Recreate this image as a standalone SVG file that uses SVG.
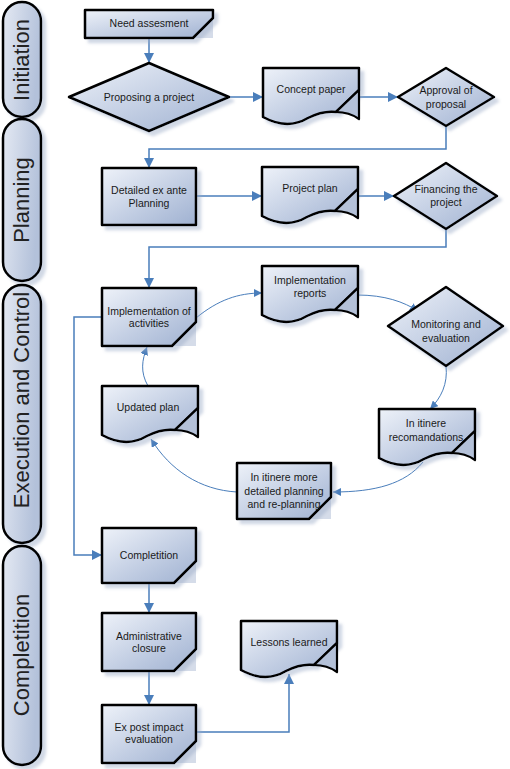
<svg xmlns="http://www.w3.org/2000/svg" width="510" height="769" viewBox="0 0 510 769">
<defs>
<linearGradient id="g" x1="0" y1="0" x2="1" y2="1">
<stop offset="0" stop-color="#eef2f9"/>
<stop offset="0.5" stop-color="#c6d1e5"/>
<stop offset="1" stop-color="#9fb1d1"/>
</linearGradient>
<linearGradient id="gl" x1="0" y1="0" x2="1" y2="0.3">
<stop offset="0" stop-color="#e4e9f3"/>
<stop offset="1" stop-color="#b3c1da"/>
</linearGradient>
<filter id="sh" x="-20%" y="-20%" width="150%" height="150%">
<feDropShadow dx="4" dy="4" stdDeviation="1.8" flood-color="#9aaac6" flood-opacity="0.45"/>
</filter>
<marker id="a" viewBox="0 0 10 10" refX="10" refY="5" markerWidth="10" markerHeight="10" markerUnits="userSpaceOnUse" orient="auto">
<path d="M0,0 L10,5 L0,10 Z" fill="#4a7ebb"/>
</marker>
<marker id="as" viewBox="0 0 10 10" refX="10" refY="5" markerWidth="8" markerHeight="8" markerUnits="userSpaceOnUse" orient="auto">
<path d="M0,0 L10,5 L0,10 Z" fill="#4a7ebb"/>
</marker>
<path id="doc" d="M0,0 H96 V22 L73,44 C65,43 55,45 45,50 C35,56 20,60 0,49 Z"/>
<path id="curl" d="M96,22 L73,44 C81,44 89,46 96,51 Z"/>
</defs>
<style>
.shape{fill:url(#g);stroke:#000;stroke-width:2.5;stroke-linejoin:round;filter:url(#sh)}
.curl{fill:#b4c1d8;stroke:#000;stroke-width:2.2;stroke-linejoin:round}
.fold{fill:#c3cde0;opacity:0.7}
.lane{fill:url(#gl);stroke:#000;stroke-width:2.5;filter:url(#sh)}
.t{font-family:"Liberation Sans",Arial,sans-serif;font-size:10.5px;fill:#1a1a1a;text-anchor:middle}
.lt{font-family:"Liberation Sans",Arial,sans-serif;font-size:22px;fill:#222;text-anchor:middle}
.c{fill:none;stroke:#4a7ebb;stroke-width:1.5}
.cc{fill:none;stroke:#4a7ebb;stroke-width:1}
</style>

<g id="lanes">
<g id="lane-initiation"><rect class="lane" x="3" y="2" width="38" height="115" rx="19"/><text class="lt" transform="translate(29,60) rotate(-90)">Initiation</text></g>
<g id="lane-planning"><rect class="lane" x="3" y="119" width="38" height="162" rx="19"/><text class="lt" transform="translate(29,200) rotate(-90)">Planning</text></g>
<g id="lane-execution"><rect class="lane" x="3" y="285" width="38" height="258" rx="19"/><text class="lt" transform="translate(29,400) rotate(-90)">Execution and Control</text></g>
<g id="lane-completion"><rect class="lane" x="3" y="546" width="38" height="219" rx="19"/><text class="lt" transform="translate(29,655) rotate(-90)">Completition</text></g>
</g>

<g id="connectors">
<path class="c" d="M149,38 V63" marker-end="url(#a)"/>
<path class="c" d="M229,97 H263" marker-end="url(#a)"/>
<path class="c" d="M360,97 H398" marker-end="url(#a)"/>
<path class="c" d="M446,126 V149 H149 V168" marker-end="url(#a)"/>
<path class="c" d="M196,196 H262" marker-end="url(#a)"/>
<path class="c" d="M357,196 H394" marker-end="url(#a)"/>
<path class="c" d="M446,229 V247 H149 V288" marker-end="url(#a)"/>
<path class="cc" d="M196,318 C218,300 238,293 262,293" marker-end="url(#as)"/>
<path class="cc" d="M357,295 C385,295 404,302 418,311" marker-end="url(#as)"/>
<path class="cc" d="M446,366 C448,384 441,398 430,409" marker-end="url(#as)"/>
<path class="cc" d="M423,462 C405,484 375,492 333,492" marker-end="url(#as)"/>
<path class="cc" d="M237,492 C200,490 170,470 151,439" marker-end="url(#as)"/>
<path class="cc" d="M148,386 C140,372 142,360 147,347" marker-end="url(#as)"/>
<path class="c" d="M102,317 H74 V555 H102" marker-end="url(#a)"/>
<path class="c" d="M149,583 V613" marker-end="url(#a)"/>
<path class="c" d="M149,671 V705" marker-end="url(#a)"/>
<path class="c" d="M196,732 H289 V674" marker-end="url(#a)"/>
</g>

<g id="need-assesment">
<path class="fold" d="M213,18 L213,38 L193,38 Z"/>
<path class="shape" d="M85,10 H213 V18 L193,38 H85 Z"/>
<text class="t" x="149" y="27">Need assesment</text>
</g>

<g id="proposing-a-project">
<path class="shape" d="M149,63 L229,97 L149,131 L69,97 Z"/>
<text class="t" x="149" y="101">Proposing a project</text>
</g>

<g id="concept-paper" transform="translate(263,68)">
<use href="#doc" class="shape"/>
<use href="#curl" class="curl"/>
<text class="t" x="48" y="25">Concept paper</text>
</g>

<g id="approval-of-proposal">
<path class="shape" d="M446,68 L494,97 L446,126 L398,97 Z"/>
<text class="t" x="446" y="94">Approval of</text>
<text class="t" x="446" y="108">proposal</text>
</g>

<g id="detailed-planning">
<rect class="shape" x="102" y="168" width="94" height="57"/>
<text class="t" x="149" y="194">Detailed ex ante</text>
<text class="t" x="149" y="207">Planning</text>
</g>

<g id="project-plan" transform="translate(262,167)">
<use href="#doc" class="shape"/>
<use href="#curl" class="curl"/>
<text class="t" x="48" y="25">Project plan</text>
</g>

<g id="financing-the-project">
<path class="shape" d="M446,163 L497,196 L446,229 L394,196 Z"/>
<text class="t" x="446" y="193">Financing the</text>
<text class="t" x="446" y="206">project</text>
</g>

<g id="implementation-of-activities">
<path class="fold" d="M196,322 L196,346 L172,346 Z"/>
<path class="shape" d="M102,288 H196 V322 L172,346 H102 Z"/>
<text class="t" x="149" y="315">Implementation of</text>
<text class="t" x="149" y="327">activities</text>
</g>

<g id="implementation-reports" transform="translate(262,266)">
<use href="#doc" class="shape"/>
<use href="#curl" class="curl"/>
<text class="t" x="48" y="18">Implementation</text>
<text class="t" x="48" y="31">reports</text>
</g>

<g id="monitoring-and-evaluation">
<path class="shape" d="M446,287 L503,326 L446,366 L388,326 Z"/>
<text class="t" x="446" y="328">Monitoring and</text>
<text class="t" x="446" y="342">evaluation</text>
</g>

<g id="in-itinere-recomandations" transform="translate(379,409)">
<use href="#doc" class="shape"/>
<use href="#curl" class="curl"/>
<text class="t" x="47" y="18">In itinere</text>
<text class="t" x="47" y="32">recomandations</text>
</g>

<g id="in-itinere-replanning">
<path class="fold" d="M331,497 L331,519 L309,519 Z"/>
<path class="shape" d="M237,463 H331 V497 L309,519 H237 Z"/>
<text class="t" x="284" y="481">In itinere more</text>
<text class="t" x="284" y="495">detailed planning</text>
<text class="t" x="284" y="508">and re-planning</text>
</g>

<g id="updated-plan" transform="translate(102,386)">
<use href="#doc" class="shape"/>
<use href="#curl" class="curl"/>
<text class="t" x="46" y="25">Updated plan</text>
</g>

<g id="completition">
<path class="fold" d="M196,561 L196,583 L174,583 Z"/>
<path class="shape" d="M102,528 H196 V561 L174,583 H102 Z"/>
<text class="t" x="149" y="559">Completition</text>
</g>

<g id="administrative-closure">
<path class="fold" d="M196,649 L196,671 L174,671 Z"/>
<path class="shape" d="M102,613 H196 V649 L174,671 H102 Z"/>
<text class="t" x="149" y="640">Administrative</text>
<text class="t" x="149" y="652">closure</text>
</g>

<g id="ex-post-impact-evaluation">
<path class="fold" d="M196,741 L196,763 L174,763 Z"/>
<path class="shape" d="M102,705 H196 V741 L174,763 H102 Z"/>
<text class="t" x="149" y="731">Ex post impact</text>
<text class="t" x="149" y="743">evaluation</text>
</g>

<g id="lessons-learned" transform="translate(241,621)">
<use href="#doc" class="shape"/>
<use href="#curl" class="curl"/>
<text class="t" x="48" y="25">Lessons learned</text>
</g>
</svg>
